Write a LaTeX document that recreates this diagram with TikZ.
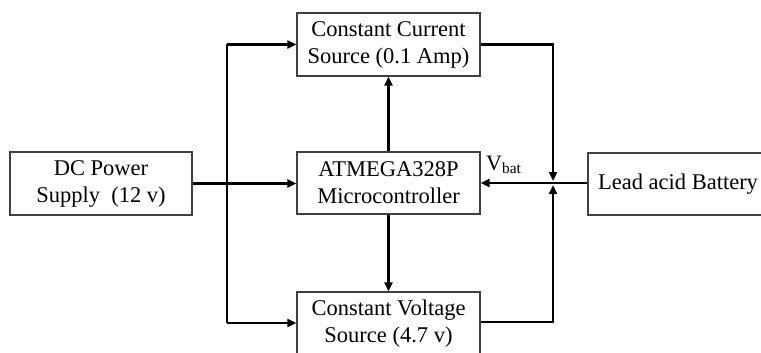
\documentclass[tikz,border=0pt]{standalone}
\usepackage{fontspec}
\setmainfont{Liberation Serif}
\usetikzlibrary{arrows.meta}
\begin{document}
\begin{tikzpicture}[x=1pt,y=-1pt,
  blockbox/.style={draw=black!75,line width=1.2pt,rectangle,minimum width=183pt,minimum height=63pt,inner sep=0pt,align=center,
    font=\fontsize{22.5}{27}\selectfont},
  conn/.style={line width=2.6pt,-{Triangle[length=9pt,width=8pt]}},
  wire/.style={line width=2.6pt}]
\useasboundingbox (0,0) rectangle (761,353);
\clip (0,0) rectangle (761,353);
\fill[white] (0,0) rectangle (761,353);
\node[blockbox,minimum width=182pt] (dc) at (101,183.5) {DC Power\\Supply\ \ (12 v)};
\node[blockbox] (cc) at (388.5,44.5) {Constant Current\\Source (0.1 Amp)};
\node[blockbox,minimum height=62pt] (mcu) at (388.5,183) {ATMEGA328P\\Microcontroller};
\node[blockbox] (cv) at (388.5,323.5) {Constant Voltage\\Source (4.7 v)};
\node[blockbox,minimum width=180pt,minimum height=62pt] (bat) at (678,184) {Lead acid Battery};
\coordinate (busT) at (227,44.5);
\coordinate (busM) at (227,183.5);
\coordinate (busB) at (227,323);
\coordinate (rj) at (553,183);
% left bus
\draw[wire] (busT) -- (busB);
\draw[conn] (busT) -- (cc.west |- busT);
\draw[conn] (dc.east |- busM) -- (mcu.west |- busM);
\draw[conn] (busB) -- (cv.west |- busB);
% mcu to sources
\draw[conn] (mcu.north) -- (cc.south);
\draw[conn] (mcu.south) -- (cv.south |- cv.north);
% right side
\draw[conn,shorten >=2pt] (cc.east |- busT) -| (rj);
\draw[conn,shorten >=2pt] (cv.east |- 0,322) -| (rj);
\draw[conn] (bat.west |- rj) -- (mcu.east |- rj);
\node[anchor=base west,inner sep=0pt,font=\fontsize{22}{26}\selectfont] (vbat) at (486,170) {V\textsubscript{bat}};
\end{tikzpicture}
\end{document}
